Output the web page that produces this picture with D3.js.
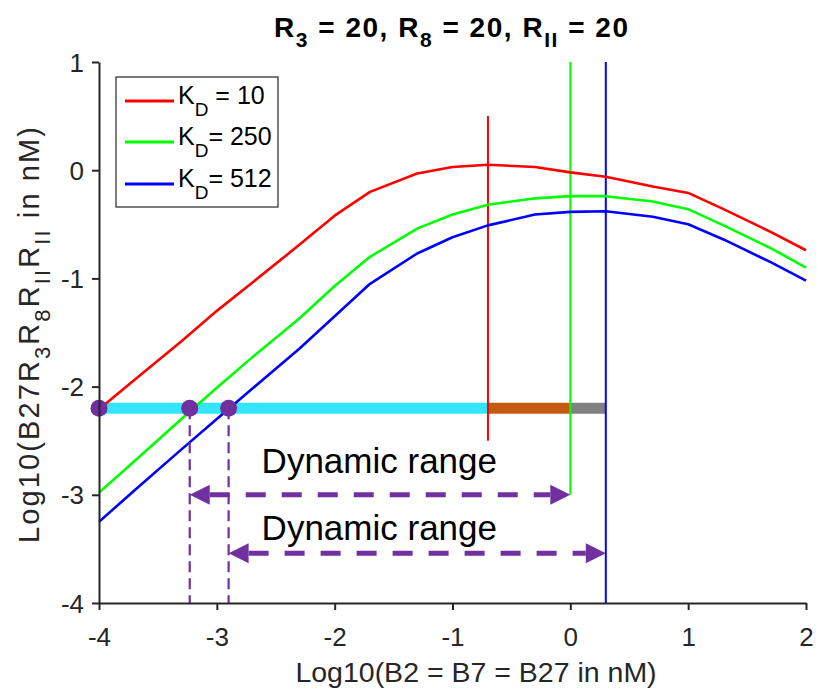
<!DOCTYPE html>
<html>
<head>
<meta charset="utf-8">
<script src="https://cdn.jsdelivr.net/npm/d3@7"></script>
<style>
  html, body { margin: 0; padding: 0; background: #fff; }
  svg { display: block; font-family: "Liberation Sans", Arial, Helvetica, sans-serif; }
</style>
</head>
<body>
<svg id="chart" width="817" height="689"></svg>
<script>
// log10 of the ligand concentration (B2 = B7 = B27, nM)
const logB = [-4, -3.7, -3.3, -3, -2.7, -2.3, -2, -1.7, -1.3, -1, -0.7, -0.3, 0, 0.3, 0.7, 1, 1.3, 1.7, 2];

// log10 of complex concentration for each dissociation constant
const kd10  = [-2.21, -1.94, -1.58, -1.30, -1.04, -0.69, -0.42, -0.20, -0.03, 0.03, 0.05, 0.03, -0.02, -0.06, -0.15, -0.21, -0.36, -0.57, -0.74];
const kd250 = [-2.98, -2.69, -2.30, -2.01, -1.73, -1.37, -1.07, -0.80, -0.54, -0.41, -0.32, -0.26, -0.24, -0.24, -0.29, -0.36, -0.51, -0.72, -0.90];
const kd512 = [-3.25, -2.96, -2.58, -2.30, -2.02, -1.65, -1.35, -1.05, -0.77, -0.62, -0.51, -0.41, -0.385, -0.38, -0.43, -0.50, -0.64, -0.85, -1.02];

const seriesNames  = ["10", "250", "512"];
const seriesColors = ["#ff0000", "#00ff00", "#0000ff"];

// positions of the peak (x) for each K_D and vertical extent of their marker lines
const peakX   = [-0.699, 0, 0.301];
const peakLow = [-2.5, -3, -4];
const peakHigh = [0.5, 1, 1];

// threshold bar at log10 = -2.2, split in three colored segments
const barLevel = -2.2;
const barStart = [-4, -0.699, 0];
const barEnd   = [-0.699, 0, 0.301];
const barColors = ["#33e6ff", "#c55a11", "#808080"];

// points where each curve crosses the threshold
const crossX = [-4, -3.23, -2.9];

// dynamic range arrows
const rangeStart = [-3.23, -2.9];
const rangeEnd   = [0, 0.301];
const rangeLevel = [-3, -3.54];
const rangeTextLevel = [-2.80, -3.42];

const xTicks = [-4, -3, -2, -1, 0, 1, 2];
const yTicks = [-4, -3, -2, -1, 0, 1];

const svg = d3.select("#chart");
const m = { left: 99, top: 62, right: 11, bottom: 86 };
const W = 817, H = 689;
const x = d3.scaleLinear().domain([-4, 2]).range([m.left, W - m.right]);
const y = d3.scaleLinear().domain([-4, 1]).range([H - m.bottom, m.top]);

const axisColor = "#262626";
const purple = "#7030a0";

// threshold bar segments
svg.append("g").selectAll("line").data(barStart).join("line")
  .attr("x1", (d) => x(d))
  .attr("x2", (d, i) => x(barEnd[i]))
  .attr("y1", y(barLevel)).attr("y2", y(barLevel))
  .attr("stroke", (d, i) => barColors[i])
  .attr("stroke-width", 11);

// vertical peak markers
svg.append("g").selectAll("line").data(peakX).join("line")
  .attr("x1", (d) => x(d)).attr("x2", (d) => x(d))
  .attr("y1", (d, i) => y(peakLow[i]))
  .attr("y2", (d, i) => y(peakHigh[i]))
  .attr("stroke", (d, i) => seriesColors[i])
  .attr("stroke-width", 2);

// response curves
const line = d3.line().x((d) => x(d[0])).y((d) => y(d[1]));
[kd10, kd250, kd512].forEach((vals, i) => {
  svg.append("path")
    .datum(logB.map((b, j) => [b, vals[j]]))
    .attr("d", line)
    .attr("fill", "none")
    .attr("stroke", seriesColors[i])
    .attr("stroke-width", 2.6)
    .attr("stroke-linejoin", "round");
});

// dashed drop lines from crossing points to the x axis
svg.append("g").selectAll("line").data(crossX.slice(1)).join("line")
  .attr("x1", (d) => x(d)).attr("x2", (d) => x(d))
  .attr("y1", y(barLevel)).attr("y2", y(-4))
  .attr("stroke", purple)
  .attr("stroke-width", 2.2)
  .attr("stroke-dasharray", "11,6");

// crossing points
svg.append("g").selectAll("circle").data(crossX).join("circle")
  .attr("cx", (d) => x(d)).attr("cy", y(barLevel))
  .attr("r", 8.5)
  .attr("fill", purple);

// dynamic range double arrows
const headLen = 20, headHalf = 10;
rangeStart.forEach((s, i) => {
  const x0 = x(s), x1 = x(rangeEnd[i]), yy = y(rangeLevel[i]);
  svg.append("line")
    .attr("x1", x0 + headLen).attr("x2", x1 - headLen)
    .attr("y1", yy).attr("y2", yy)
    .attr("stroke", purple)
    .attr("stroke-width", 5)
    .attr("stroke-dasharray", "20,16");
  svg.append("path")
    .attr("d", `M${x1},${yy} L${x1 - headLen},${yy - headHalf} L${x1 - headLen},${yy + headHalf} Z`)
    .attr("fill", purple);
  svg.append("path")
    .attr("d", `M${x0},${yy} L${x0 + headLen},${yy - headHalf} L${x0 + headLen},${yy + headHalf} Z`)
    .attr("fill", purple);
  svg.append("text")
    .attr("x", x(-2.62)).attr("y", y(rangeTextLevel[i]))
    .attr("font-size", 35)
    .attr("fill", "#000")
    .text("Dynamic range");
});

// axes
const xAxis = d3.axisBottom(x).tickValues(xTicks).tickSize(7).tickSizeOuter(0).tickPadding(18);
const yAxis = d3.axisLeft(y).tickValues(yTicks).tickSize(7).tickSizeOuter(0).tickPadding(8);

const gx = svg.append("g").attr("transform", `translate(0,${y(-4)})`).call(xAxis);
const gy = svg.append("g").attr("transform", `translate(${x(-4)},0)`).call(yAxis);
[gx, gy].forEach((g) => {
  g.select(".domain").attr("stroke", axisColor).attr("stroke-width", 2);
  g.selectAll(".tick line").attr("stroke", axisColor).attr("stroke-width", 2);
  g.selectAll(".tick text")
    .attr("fill", axisColor)
    .attr("font-size", 26)
    .attr("font-family", "Liberation Sans, Arial, sans-serif")
    .text((d) => (d < 0 ? "-" + Math.abs(d) : d));
});
gy.selectAll(".tick text").attr("dy", "0.35em");

// axis titles
svg.append("text")
  .attr("x", 476).attr("y", 682)
  .attr("text-anchor", "middle")
  .attr("font-size", 28.5)
  .attr("fill", axisColor)
  .text("Log10(B2 = B7 = B27 in nM)");

const yl = svg.append("text")
  .attr("transform", `translate(39,335) rotate(-90)`)
  .attr("text-anchor", "middle")
  .attr("font-size", 29)
  .attr("textLength", 416)
  .attr("lengthAdjust", "spacing")
  .attr("fill", axisColor);
yl.append("tspan").text("Log10(B27R");
yl.append("tspan").attr("font-size", 22).attr("dy", 11).text("3");
yl.append("tspan").attr("dy", -11).text("R");
yl.append("tspan").attr("font-size", 22).attr("dy", 11).text("8");
yl.append("tspan").attr("dy", -11).text("R");
yl.append("tspan").attr("font-size", 22).attr("dy", 11).text("II");
yl.append("tspan").attr("dy", -11).text("R");
yl.append("tspan").attr("font-size", 22).attr("dy", 11).text("II");
yl.append("tspan").attr("dy", -11).text(" in nM)");

// title
const title = svg.append("text")
  .attr("x", 451).attr("y", 37)
  .attr("text-anchor", "middle")
  .attr("font-size", 28)
  .attr("font-weight", "bold")
  .attr("textLength", 354)
  .attr("lengthAdjust", "spacing")
  .attr("fill", "#000");
const titleParts = [["R", "3", " = 20, "], ["R", "8", " = 20, "], ["R", "II", " = 20"]];
titleParts.forEach((p) => {
  title.append("tspan").text(p[0]);
  title.append("tspan").attr("font-size", 21).attr("dy", 10).text(p[1]);
  title.append("tspan").attr("dy", -10).text(p[2]);
});

// legend
const lg = svg.append("g");
lg.append("rect")
  .attr("x", 116).attr("y", 77).attr("width", 162).attr("height", 130)
  .attr("fill", "#fff").attr("stroke", axisColor).attr("stroke-width", 1.2);
const legendRows = [101, 142, 184];
seriesNames.forEach((name, i) => {
  const ly = legendRows[i];
  lg.append("line")
    .attr("x1", 125).attr("x2", 174).attr("y1", ly).attr("y2", ly)
    .attr("stroke", seriesColors[i]).attr("stroke-width", 3);
  const t = lg.append("text")
    .attr("x", 178).attr("y", ly + 3)
    .attr("font-size", 25)
    .attr("fill", "#000");
  t.append("tspan").text("K");
  t.append("tspan").attr("font-size", 19).attr("dy", 12).text("D");
  t.append("tspan").attr("dy", -12).text(i === 0 ? " = " + name : "= " + name);
});
</script>
</body>
</html>
